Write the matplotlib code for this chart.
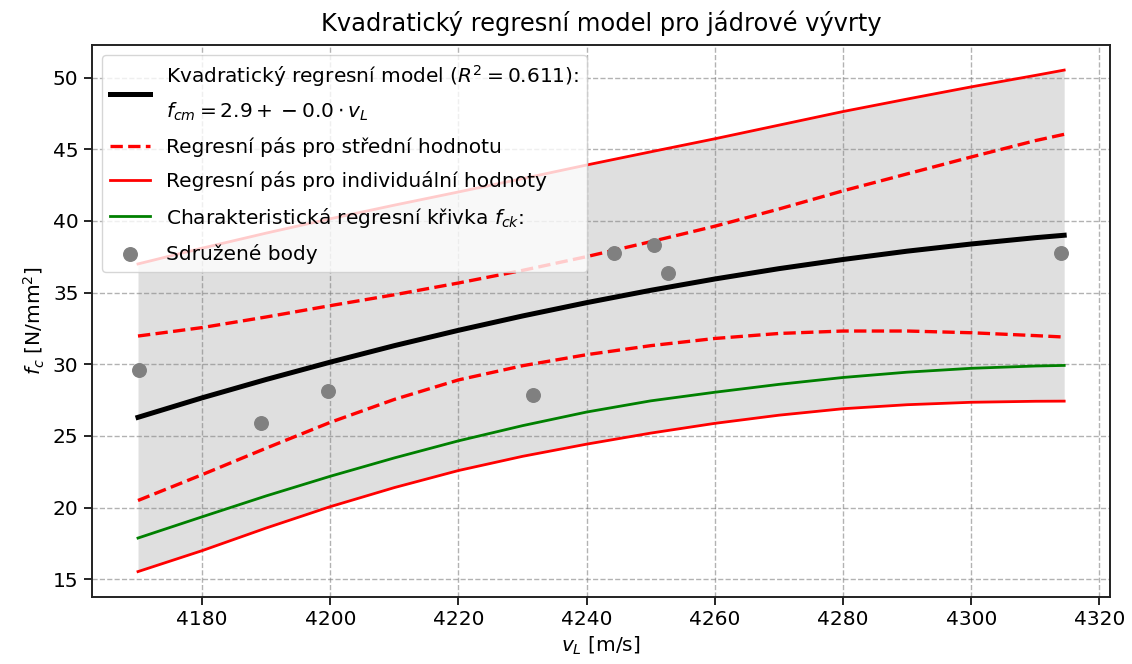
import matplotlib
matplotlib.use("Agg")
import matplotlib.pyplot as plt

# --- data ---
v_curve = [4170, 4180, 4190, 4200, 4210, 4220, 4230, 4240, 4250, 4260, 4270, 4280, 4290, 4300, 4310, 4314.5]
f_model = [26.30, 27.66, 28.94, 30.15, 31.30, 32.37, 33.37, 34.30, 35.16, 35.95, 36.67, 37.31, 37.89, 38.39, 38.83, 39.00]
mean_upper = [31.97, 32.56, 33.30, 34.09, 34.85, 35.67, 36.55, 37.51, 38.55, 39.63, 40.83, 42.10, 43.28, 44.46, 45.60, 46.04]
mean_lower = [20.50, 22.30, 24.15, 25.95, 27.55, 28.91, 29.90, 30.67, 31.30, 31.80, 32.15, 32.32, 32.32, 32.20, 32.00, 31.90]
ind_upper = [37.00, 38.10, 39.15, 40.15, 41.10, 42.02, 42.95, 43.90, 44.82, 45.73, 46.68, 47.63, 48.50, 49.35, 50.15, 50.52]
ind_lower = [15.54, 17.00, 18.58, 20.07, 21.40, 22.59, 23.58, 24.43, 25.20, 25.88, 26.45, 26.90, 27.18, 27.35, 27.42, 27.43]
f_ck = [17.88, 19.36, 20.82, 22.19, 23.47, 24.66, 25.72, 26.67, 27.45, 28.05, 28.60, 29.08, 29.45, 29.72, 29.88, 29.92]

v_points = [4170.2, 4189.2, 4199.7, 4231.6, 4244.2, 4250.5, 4252.7, 4314.0]
f_points = [29.57, 25.89, 28.15, 27.89, 37.79, 38.33, 36.38, 37.79]

title = "Kvadratický regresní model pro jádrové vývrty"
label_model = "Kvadratický regresní model ($R^2 = 0.611$):\n$f_{cm} = 2.9 + -0.0 \\cdot v_L$"
label_mean = "Regresní pás pro střední hodnotu"
label_ind = "Regresní pás pro individuální hodnoty"
label_ck = "Charakteristická regresní křivka $f_{ck}$:"
label_pts = "Sdružené body"

FS = 14.5
fig = plt.figure(figsize=(11.32, 6.64), dpi=100)
ax = fig.add_axes([0.081, 0.1014, 0.9, 0.8308])

ax.fill_between(v_curve, ind_lower, ind_upper, color="gray", alpha=0.25, linewidth=0)
ax.plot(v_curve, f_model, color="black", lw=3.6, label=label_model)
ax.plot(v_curve, mean_upper, color="red", ls="--", lw=2.4, label=label_mean)
ax.plot(v_curve, mean_lower, color="red", ls="--", lw=2.4)
ax.plot(v_curve, ind_upper, color="red", lw=2.0, label=label_ind)
ax.plot(v_curve, ind_lower, color="red", lw=2.0)
ax.plot(v_curve, f_ck, color="green", lw=2.0, label=label_ck)
ax.scatter(v_points, f_points, color="gray", s=95, zorder=5, label=label_pts)

ax.set_yticks([15, 20, 25, 30, 35, 40, 45, 50])
ax.set_xticks([4180, 4200, 4220, 4240, 4260, 4280, 4300, 4320])
ax.tick_params(labelsize=FS, length=6, width=1.2)
ax.grid(True, ls="--", color="gray", alpha=0.6, lw=1.0)
for s in ax.spines.values():
    s.set_linewidth(1.4)
    s.set_color("#222222")

ax.set_title(title, fontsize=FS * 1.2, pad=10)
ax.set_xlabel("$v_L$ [m/s]", fontsize=FS)
ax.set_ylabel("$f_c$ [N/mm$^2$]", fontsize=FS)
leg = ax.legend(loc="upper left", fontsize=FS, labelspacing=0.7)
leg.get_texts()[0].set_linespacing(1.7)

fig.savefig("out.png", dpi=100)
